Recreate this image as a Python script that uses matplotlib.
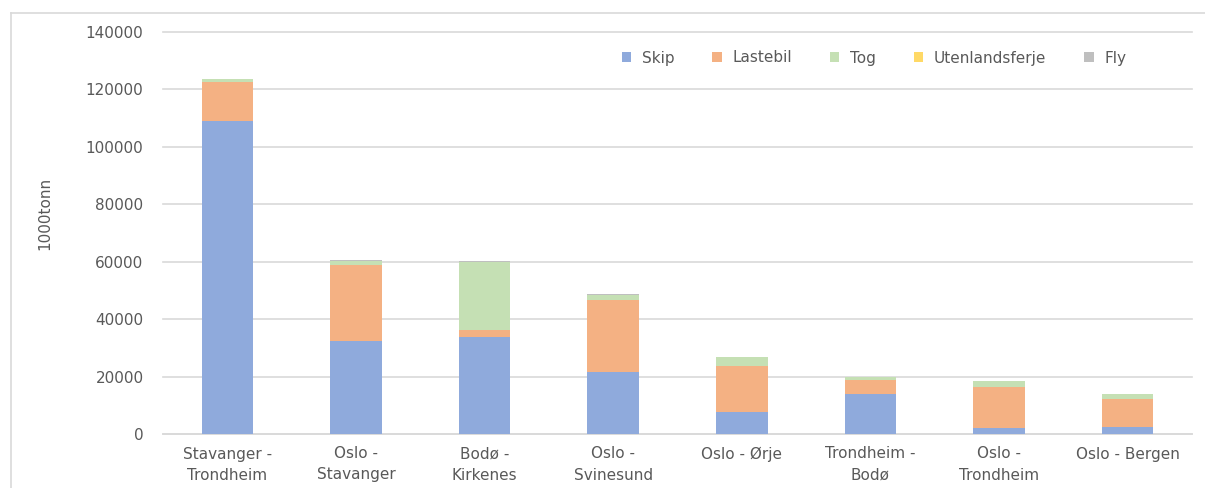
import matplotlib.pyplot as plt
import numpy as np
from matplotlib.lines import Line2D

# godsmengder per transportmiddel, 1000 tonn
strekninger = [
    "Stavanger -\nTrondheim", "Oslo -\nStavanger", "Bodø -\nKirkenes", "Oslo -\nSvinesund",
    "Oslo - Ørje", "Trondheim -\nBodø", "Oslo -\nTrondheim", "Oslo - Bergen",
]
skip = [109000, 32400, 33900, 21700, 7700, 14000, 2200, 2600]
lastebil = [13700, 26400, 2400, 25100, 16100, 4700, 14200, 9700]
tog = [800, 1500, 23600, 1700, 3000, 1000, 2100, 1600]
utenlandsferje = [0, 0, 0, 0, 0, 0, 0, 0]
fly = [0, 250, 200, 300, 0, 0, 0, 0]

serier = [
    ("Skip", skip, "#8FAADC"),
    ("Lastebil", lastebil, "#F4B183"),
    ("Tog", tog, "#C5E0B4"),
    ("Utenlandsferje", utenlandsferje, "#FFD966"),
    ("Fly", fly, "#BFBFBF"),
]

tekst = "#595959"
plt.rcParams["font.family"] = ["DejaVu Sans"]

fig = plt.figure(figsize=(12.05, 4.88), dpi=100)
ax = fig.add_axes([163 / 1205, 1 - 434 / 488, (1192 - 163) / 1205, (434 - 32) / 488])

x = np.arange(len(strekninger))
bunn = np.zeros(len(strekninger))
for navn, verdier, farge in serier:
    ax.bar(x, verdier, width=0.4, bottom=bunn, color=farge, label=navn, zorder=3)
    bunn += np.array(verdier)

ax.set_xlim(-0.5, len(strekninger) - 0.5)
ax.set_ylim(0, 140000)
ax.set_yticks(np.arange(0, 140001, 20000))
ax.yaxis.grid(True, color="#D9D9D9", linewidth=1.2, zorder=0)
for gl in ax.get_ygridlines():
    gl.set_clip_on(False)
ax.set_xticks(x)
ax.set_xticklabels(strekninger, fontsize=11, color=tekst, linespacing=1.5)
ax.tick_params(axis="y", labelsize=11, labelcolor=tekst, length=0, pad=14)
ax.tick_params(axis="x", length=0, pad=9)
for side in ["top", "right", "left"]:
    ax.spines[side].set_visible(False)
ax.spines["bottom"].set_color("#D9D9D9")
ax.spines["bottom"].set_linewidth(1.2)

fig.text(45 / 1205, 1 - 213 / 488, "1000tonn", rotation=90, ha="center", va="center",
         fontsize=11, color=tekst)

leg = ax.legend(loc="center left", bbox_to_anchor=(608 / 1205, 1 - 58 / 488),
                bbox_transform=fig.transFigure, ncol=5, frameon=False, fontsize=11,
                handlelength=0.6, handleheight=0.6, handletextpad=0.7, columnspacing=2.5)
for t in leg.get_texts():
    t.set_color(tekst)

# ramme rundt diagrammet
fig.add_artist(Line2D([10.5 / 1205, 10.5 / 1205], [0, 1 - 13 / 488],
                      transform=fig.transFigure, color="#D9D9D9", linewidth=1.2))
fig.add_artist(Line2D([10.5 / 1205, 1], [1 - 13 / 488, 1 - 13 / 488],
                      transform=fig.transFigure, color="#D9D9D9", linewidth=1.2))

fig.savefig("out.png", dpi=100)
